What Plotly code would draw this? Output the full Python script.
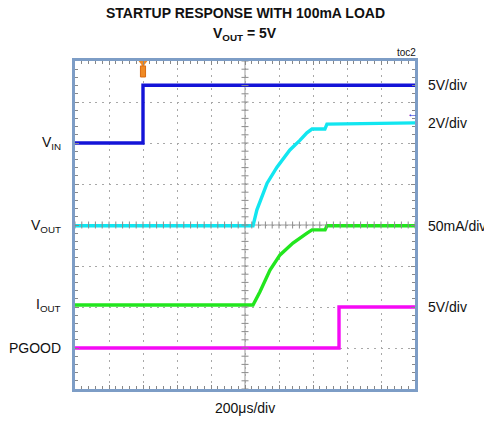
import plotly.graph_objects as go

# ---- data (time in microseconds, amplitude in screen divisions) ----
t_vin = [0, 400, 400, 2000]
y_vin = [6.0, 6.0, 7.41, 7.41]

t_vout = [0, 1047, 1070, 1130, 1188, 1264, 1324, 1364, 1394, 1470, 1482, 2000]
y_vout = [3.98, 3.98, 4.37, 5.02, 5.41, 5.83, 6.07, 6.25, 6.34, 6.34, 6.46, 6.49]

t_iout = [0, 1047, 1088, 1147, 1206, 1282, 1365, 1394, 1471, 1482, 2000]
y_iout = [2.05, 2.05, 2.37, 2.90, 3.27, 3.56, 3.80, 3.88, 3.88, 3.98, 3.98]

t_pg = [0, 1553, 1553, 2000]
y_pg = [1.0, 1.0, 2.0, 2.0]

left_labels = ["V<sub>IN</sub>", "V<sub>OUT</sub>", "I<sub>OUT</sub>", "PGOOD"]
right_labels = ["5V/div", "2V/div", "50mA/div", "5V/div"]

T_DIV = 200      # us per division
N_XDIV = 10
N_YDIV = 8
TRIG_T = 400

C_VIN = "#1414d8"
C_VOUT = "#12e6f0"
C_IOUT = "#22e61e"
C_PG = "#f50af5"
FONT = "Liberation Sans, Arial, sans-serif"

fig = go.Figure()

series = [(t_vin, y_vin, C_VIN), (t_vout, y_vout, C_VOUT),
          (t_iout, y_iout, C_IOUT), (t_pg, y_pg, C_PG)]
for t, y, c in series:
    fig.add_trace(go.Scatter(x=t, y=y, mode="lines",
                             line=dict(color=c, width=3.4),
                             showlegend=False, hoverinfo="skip"))

xmax = T_DIV * N_XDIV
# centre-line tick marks
xt = [i * T_DIV / 5 for i in range(N_XDIV * 5 + 1)]
yt = [i / 5 for i in range(N_YDIV * 5 + 1)]
fig.add_trace(go.Scatter(x=xt, y=[N_YDIV / 2] * len(xt), mode="markers",
                         marker=dict(symbol="line-ns", size=5,
                                     line=dict(color="#8c8c8c", width=1)),
                         showlegend=False, hoverinfo="skip"))
fig.add_trace(go.Scatter(x=[xmax / 2] * len(yt), y=yt, mode="markers",
                         marker=dict(symbol="line-ew", size=5,
                                     line=dict(color="#8c8c8c", width=1)),
                         showlegend=False, hoverinfo="skip"))

# trigger marker
fig.add_trace(go.Scatter(x=[TRIG_T], y=[7.96], mode="markers",
                         marker=dict(symbol="triangle-down", size=8, color="#f08a24"),
                         cliponaxis=False, showlegend=False, hoverinfo="skip"))
fig.add_shape(type="rect", x0=TRIG_T - 15, x1=TRIG_T + 15, y0=7.61, y1=7.88,
              fillcolor="#f08a24", line=dict(color="#d86a10", width=1), layer="above")

# centre lines
fig.add_shape(type="line", x0=xmax / 2, x1=xmax / 2, y0=0, y1=N_YDIV,
              line=dict(color="#9a9a9a", width=1), layer="below")
fig.add_shape(type="line", x0=0, x1=xmax, y0=N_YDIV / 2, y1=N_YDIV / 2,
              line=dict(color="#9a9a9a", width=1), layer="below")

# channel-2 reference arrow
fig.add_annotation(x=1988, y=6.73, text="<b>←</b>", showarrow=False,
                   font=dict(color=C_VIN, size=11, family=FONT))

# side labels
for lab, yv in zip(left_labels, [y_vin[0], y_vout[0], y_iout[0], y_pg[0]]):
    fig.add_annotation(xref="paper", x=-0.035, y=yv, text=lab, showarrow=False,
                       xanchor="right", yanchor="middle",
                       font=dict(size=14, family=FONT, color="#111"))
for lab, yv in zip(right_labels, [y_vin[-1], y_vout[-1], y_iout[-1], y_pg[-1]]):
    fig.add_annotation(xref="paper", x=1.032, y=yv, text=lab, showarrow=False,
                       xanchor="left", yanchor="middle",
                       font=dict(size=14, family=FONT, color="#111"))

# titles
fig.add_annotation(xref="paper", yref="paper", x=0.5, y=1.145,
                   text="<b>STARTUP RESPONSE WITH 100mA LOAD</b>", showarrow=False,
                   yanchor="middle", font=dict(size=14, family=FONT, color="#111"))
fig.add_annotation(xref="paper", yref="paper", x=0.5, y=1.083,
                   text="<b>V<sub>OUT</sub> = 5V</b>", showarrow=False,
                   yanchor="middle", font=dict(size=14, family=FONT, color="#111"))
fig.add_annotation(xref="paper", yref="paper", x=1.009, y=1.027, text="toc2",
                   showarrow=False, xanchor="right", yanchor="middle",
                   font=dict(size=10, family=FONT, color="#111"))
fig.add_annotation(xref="paper", yref="paper", x=0.5, y=-0.058, text="200μs/div",
                   showarrow=False, yanchor="middle",
                   font=dict(size=14, family=FONT, color="#111"))

axis_common = dict(showticklabels=False, zeroline=False, showgrid=True,
                   gridcolor="#a8a8a8", griddash="2px,4.8px", gridwidth=1,
                   showline=True, linecolor="#7d9dc6", linewidth=3, mirror="ticks",
                   ticks="inside", ticklen=4, tickcolor="#888", tickwidth=1)
fig.update_xaxes(range=[0, xmax], dtick=T_DIV, tick0=0,
                 minor=dict(ticks="inside", dtick=T_DIV / 5, ticklen=3,
                            tickcolor="#888", showgrid=False),
                 **axis_common)
fig.update_yaxes(range=[0, N_YDIV], dtick=1, tick0=0,
                 minor=dict(ticks="inside", dtick=0.2, ticklen=3,
                            tickcolor="#888", showgrid=False),
                 **axis_common)

# page body adds an 8px margin, so the figure is offset accordingly
fig.update_layout(width=484, height=415,
                  margin=dict(l=67, r=77, t=53, b=34, pad=0),
                  plot_bgcolor="white", paper_bgcolor="white",
                  showlegend=False)

fig.write_html("out.html")
